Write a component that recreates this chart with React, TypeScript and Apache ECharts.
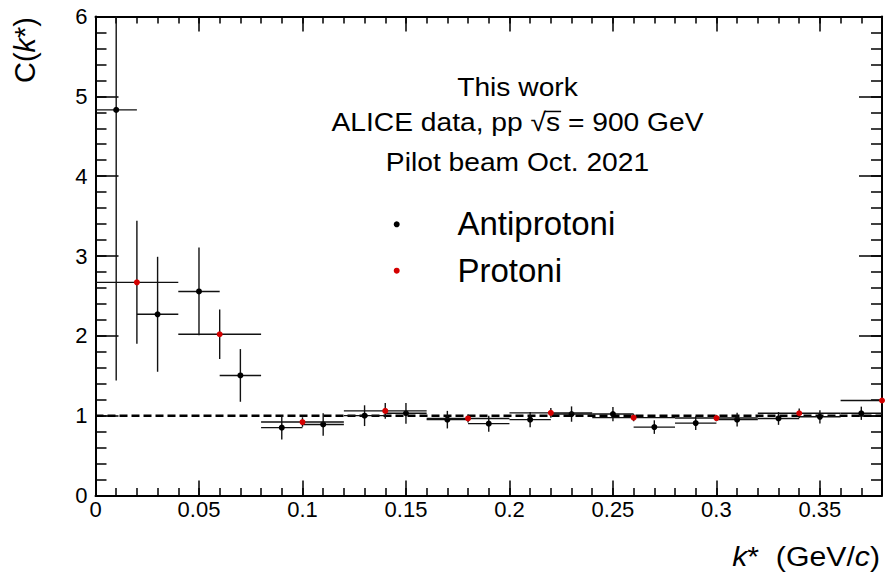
import React, { useEffect, useRef } from 'react';
import * as echarts from 'echarts';

// ---- data ----
const antiK = [0.01, 0.03, 0.05, 0.07, 0.09, 0.11, 0.13, 0.15, 0.17, 0.19, 0.21, 0.23, 0.25, 0.27, 0.29, 0.31, 0.33, 0.35, 0.37];
const antiC = [4.83, 2.27, 2.556, 1.504, 0.85, 0.89, 1.0, 1.03, 0.95, 0.9, 0.95, 1.02, 1.02, 0.857, 0.907, 0.95, 0.965, 0.986, 1.03];
const antiErr = [3.39, 0.72, 0.55, 0.33, 0.15, 0.14, 0.13, 0.13, 0.11, 0.1, 0.096, 0.096, 0.09, 0.085, 0.085, 0.085, 0.08, 0.083, 0.083];
const antiHalfBin = 0.01;

const protK = [0.02, 0.06, 0.1, 0.14, 0.18, 0.22, 0.26, 0.3, 0.34, 0.38];
const protC = [2.67, 2.02, 0.92, 1.06, 0.965, 1.035, 0.975, 0.97, 1.03, 1.19];
const protErr = [0.77, 0.31, 0.06, 0.1, 0.05, 0.06, 0.045, 0.04, 0.06, 0.03];
const protHalfBin = 0.02;

const xMin = 0;
const xMax = 0.38;
const yMin = 0;
const yMax = 6;
const refLine = 1;

const titleLines = ['This work', 'ALICE data, pp \u221As = 900 GeV', 'Pilot beam Oct. 2021'];
const legendNames = ['Antiprotoni', 'Protoni'];
const colors = ['#000000', '#d40000'];

const FONT = '"Liberation Sans", Arial, Helvetica, sans-serif';

export default function App() {
  const ref = useRef<HTMLDivElement>(null);
  useEffect(() => {
    if (!ref.current) return;
    const chart = echarts.init(ref.current, undefined, { renderer: 'svg' });

    const makeRender = (halfW: number, color: string) => (params: any, api: any) => {
      const k = api.value(0);
      const c = api.value(1);
      const e = api.value(2);
      const cs = params.coordSys;
      const cx = (v: number) => Math.max(cs.x, Math.min(cs.x + cs.width, v));
      const cy = (v: number) => Math.max(cs.y, Math.min(cs.y + cs.height, v));
      const p = api.coord([k, c]);
      const l = api.coord([k - halfW, c]);
      const r = api.coord([k + halfW, c]);
      const t = api.coord([k, c + e]);
      const b = api.coord([k, c - e]);
      const ls = { stroke: '#111', lineWidth: 1.4 };
      return {
        type: 'group',
        children: [
          { type: 'line', shape: { x1: cx(l[0]), y1: p[1], x2: cx(r[0]), y2: p[1] }, style: ls },
          { type: 'line', shape: { x1: p[0], y1: cy(t[1]), x2: p[0], y2: cy(b[1]) }, style: ls },
          { type: 'circle', shape: { cx: p[0], cy: p[1], r: 3 }, style: { fill: color } },
        ],
      };
    };

    const grid = { left: 95.5, top: 16.5, width: 786.5, height: 479 };

    const mkX = (position: string, interval: number, len: number, major: boolean, labels: boolean) => ({
      type: 'value',
      min: xMin,
      max: xMax,
      interval,
      position,
      axisLine: { show: major, onZero: false, lineStyle: { color: '#000', width: 2 } },
      axisTick: { show: true, inside: true, length: len, lineStyle: { color: '#000', width: 1.5 } },
      axisLabel: {
        show: labels,
        fontSize: 22,
        color: '#000',
        fontFamily: FONT,
        margin: 3,
        showMaxLabel: false,
        formatter: (v: number) => String(+v.toFixed(2)),
      },
      splitLine: { show: false },
    });
    const mkY = (position: string, interval: number, len: number, major: boolean, labels: boolean) => ({
      type: 'value',
      min: yMin,
      max: yMax,
      interval,
      position,
      axisLine: { show: major, onZero: false, lineStyle: { color: '#000', width: 2 } },
      axisTick: { show: true, inside: true, length: len, lineStyle: { color: '#000', width: 1.5 } },
      axisLabel: { show: labels, fontSize: 22, color: '#000', fontFamily: FONT, margin: 8 },
      splitLine: { show: false },
    });

    // overline for sqrt(s)
    const titleFs = 26;
    const titleSx = 1.085;
    const titleCx = 517.5;
    const titleMids = [86.7, 121.7, 161.7];
    const canvas = document.createElement('canvas');
    const ctx = canvas.getContext('2d')!;
    ctx.font = `${titleFs}px "Liberation Sans"`;
    const line2 = titleLines[1];
    const fullW = ctx.measureText(line2).width * titleSx;
    const sqrtIdx = line2.indexOf('\u221A');
    const preW = ctx.measureText(line2.slice(0, sqrtIdx + 1)).width * titleSx;
    const sW = ctx.measureText('s').width * titleSx;
    const ox1 = titleCx - fullW / 2 + preW - 1;
    const ox2 = ox1 + sW + 2;
    const baseline2 = titleMids[1] + 0.3465 * titleFs;
    const oy = baseline2 - 0.74 * titleFs;

    const graphic: any[] = [
      ...titleLines.map((t, i) => ({
        type: 'text',
        x: titleCx,
        y: titleMids[i],
        scaleX: titleSx,
        style: { text: t, fontSize: titleFs, fontFamily: FONT, fill: '#000', align: 'center', verticalAlign: 'middle' },
      })),
      { type: 'line', shape: { x1: ox1, y1: oy, x2: ox2, y2: oy }, style: { stroke: '#000', lineWidth: 1.5 } },
      // legend
      { type: 'circle', shape: { cx: 396.7, cy: 224.3, r: 3 }, style: { fill: colors[0] } },
      { type: 'circle', shape: { cx: 396.7, cy: 270.7, r: 3 }, style: { fill: colors[1] } },
      {
        type: 'text', x: 457.5, y: 223.6,
        style: { text: legendNames[0], fontSize: 33, fontFamily: FONT, fill: '#000', align: 'left', verticalAlign: 'middle' },
      },
      {
        type: 'text', x: 457.5, y: 270.3,
        style: { text: legendNames[1], fontSize: 33, fontFamily: FONT, fill: '#000', align: 'left', verticalAlign: 'middle' },
      },
      // axis titles
      {
        type: 'text', x: 25, y: 17, rotation: Math.PI / 2,
        style: {
          text: '{n|C(}{i|k}{n|*)}',
          align: 'right', verticalAlign: 'middle', fill: '#000',
          rich: {
            n: { fontSize: 29, fontFamily: FONT, fill: '#000' },
            i: { fontSize: 29, fontFamily: FONT, fontStyle: 'italic', fill: '#000' },
          },
        },
      },
      {
        type: 'text', x: 880, y: 557, scaleX: 1.12,
        style: {
          text: '{i|k}{n|*  (GeV/}{i|c}{n|)}',
          align: 'right', verticalAlign: 'middle', fill: '#000',
          rich: {
            n: { fontSize: 27, lineHeight: 27, fontFamily: FONT, fill: '#000' },
            i: { fontSize: 27, lineHeight: 27, fontFamily: FONT, fontStyle: 'italic', fill: '#000' },
          },
        },
      },
    ];

    chart.setOption({
      animation: false,
      textStyle: { fontFamily: FONT },
      grid,
      xAxis: [
        mkX('bottom', 0.05, 15, true, true),
        mkX('bottom', 0.01, 7.5, false, false),
        mkX('top', 0.05, 15, true, false),
        mkX('top', 0.01, 7, false, false),
      ],
      yAxis: [
        mkY('left', 1, 23, true, true),
        mkY('left', 0.2, 11, false, false),
        mkY('right', 1, 23, true, false),
        mkY('right', 0.2, 11, false, false),
      ],
      graphic,
      series: [
        {
          type: 'line',
          name: 'ref',
          data: [[xMin, refLine], [xMax, refLine]],
          symbol: 'none',
          lineStyle: { color: '#000', width: 2.5, type: [8, 4] },
          silent: true,
          z: 1,
        },
        {
          type: 'custom',
          name: legendNames[0],
          renderItem: makeRender(antiHalfBin, colors[0]),
          data: antiK.map((k, i) => [k, antiC[i], antiErr[i]]),
          encode: { x: 0, y: 1 },
          itemStyle: { color: colors[0] },
          clip: false,
          z: 2,
        },
        {
          type: 'custom',
          name: legendNames[1],
          renderItem: makeRender(protHalfBin, colors[1]),
          data: protK.map((k, i) => [k, protC[i], protErr[i]]),
          encode: { x: 0, y: 1 },
          itemStyle: { color: colors[1] },
          clip: false,
          z: 3,
        },
      ],
    });
    return () => chart.dispose();
  }, []);
  return <div ref={ref} style={{ position: 'absolute', left: 0, top: 0, width: 886, height: 573, background: '#fff' }} />;
}
